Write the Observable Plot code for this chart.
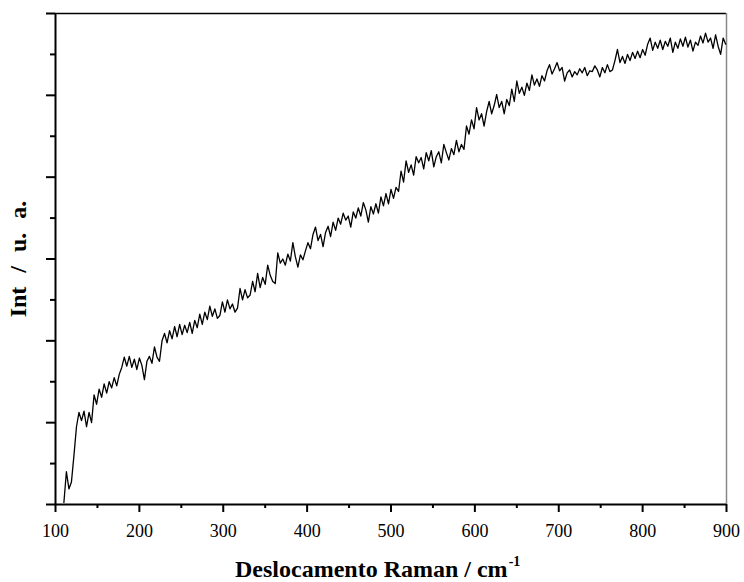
<!DOCTYPE html>
<html><head><meta charset="utf-8">
<script src="https://cdn.jsdelivr.net/npm/d3@7"></script>
<script src="https://cdn.jsdelivr.net/npm/@observablehq/plot@0.6"></script>
<style>
body{margin:0;background:#fff}
#chart{width:744px;height:582px}
#chart svg, #chart svg text{font-family:"Liberation Serif","Times New Roman",Times,serif !important}
</style>
</head><body><div id="chart"></div>
<script>
const ramanShift = [
110,113,116,119,122,125,128,131,134,137,
140,143,146,149,152,155,158,161,164,167,
170,173,176,179,182,185,188,191,194,197,
200,203,206,209,212,215,218,221,224,227,
230,233,236,239,242,245,248,251,254,257,
260,263,266,269,272,275,278,281,284,287,
290,293,296,299,302,305,308,311,314,317,
320,323,326,329,332,335,338,341,344,347,
350,353,356,359,362,365,368,371,374,377,
380,383,386,389,392,395,398,401,404,407,
410,413,416,419,422,425,428,431,434,437,
440,443,446,449,452,455,458,461,464,467,
470,473,476,479,482,485,488,491,494,497,
500,503,506,509,512,515,518,521,524,527,
530,533,536,539,542,545,548,551,554,557,
560,563,566,569,572,575,578,581,584,587,
590,593,596,599,602,605,608,611,614,617,
620,623,626,629,632,635,638,641,644,647,
650,653,656,659,662,665,668,671,674,677,
680,683,686,689,692,695,698,701,704,707,
710,713,716,719,722,725,728,731,734,737,
740,743,746,749,752,755,758,761,764,767,
770,773,776,779,782,785,788,791,794,797,
800,803,806,809,812,815,818,821,824,827,
830,833,836,839,842,845,848,851,854,857,
860,863,866,869,872,875,878,881,884,887,
890,893,896,899
];
const intensity = [
5,80,38,55,120,190,225,205,228,190,
225,200,268,245,282,262,295,272,300,285,
310,290,318,335,360,338,362,335,355,330,
358,340,305,350,362,345,385,360,350,400,
418,395,425,405,435,410,440,415,438,420,
445,418,450,432,465,440,470,452,485,460,
478,455,462,495,470,500,478,490,470,480,
528,500,525,505,512,545,520,565,530,555,
538,585,560,545,540,615,590,600,585,612,
595,640,605,580,610,598,620,640,625,660,
678,645,660,630,665,680,655,690,670,700,
685,712,695,705,678,715,700,725,705,738,
720,690,728,710,735,712,752,730,760,735,
770,748,775,765,815,788,840,812,830,805,
850,835,848,820,860,840,865,825,850,862,
835,880,860,842,870,855,890,862,880,868,
925,905,940,918,970,940,955,925,960,985,
955,975,1002,970,985,955,990,975,1015,985,
1035,1005,1020,1000,1030,1012,1050,1025,1040,1022,
1048,1035,1060,1075,1052,1065,1080,1060,1068,1035,
1055,1062,1045,1058,1050,1065,1055,1068,1048,1060,
1058,1072,1062,1045,1068,1055,1075,1058,1062,1085,
1112,1080,1095,1078,1100,1085,1105,1090,1108,1092,
1112,1098,1125,1140,1110,1130,1115,1135,1112,1132,
1120,1140,1105,1130,1115,1138,1120,1142,1118,1135,
1108,1130,1122,1145,1128,1152,1130,1140,1115,1148,
1120,1100,1140,1125
];
const xMajorTicks = [100,200,300,400,500,600,700,800,900];
const xMinorTicks = [150,250,350,450,550,650,750,850];
const yMajorTicks = [0,200,400,600,800,1000,1200];
const yMinorTicks = [100,300,500,700,900,1100];
const xTitle = "Deslocamento Raman / cm";
const xTitleSup = "-1";
const yTitle = "Int / u. a.";

const data = ramanShift.map((x, i) => ({x, y: intensity[i]}));
const serif = "'Liberation Serif', 'Times New Roman', Times, serif";

const plot = Plot.plot({
  width: 744, height: 582,
  marginLeft: 55, marginRight: 18, marginTop: 13, marginBottom: 78,
  style: {fontFamily: serif, fontSize: "18px", background: "#fff", color: "#000", overflow: "visible"},
  x: {domain: [100, 900]},
  y: {domain: [0, 1200]},
  marks: [
    Plot.ruleY([1200], {stroke: "#000", strokeWidth: 1.5}),
    Plot.ruleX([900], {stroke: "#888", strokeWidth: 1.5}),
    Plot.line(data, {x: "x", y: "y", stroke: "#000", strokeWidth: 1.3}),
    Plot.axisX({ticks: xMajorTicks, tickSize: 8, tickPadding: 12, tickFormat: d => String(d), label: null, strokeWidth: 2}),
    Plot.axisX({ticks: xMinorTicks, tickSize: 4, tickFormat: () => "", label: null, strokeWidth: 2}),
    Plot.axisY({ticks: yMajorTicks, tickSize: 9, tickFormat: () => "", label: null, strokeWidth: 2}),
    Plot.axisY({ticks: yMinorTicks, tickSize: 5, tickFormat: () => "", label: null, strokeWidth: 2}),
    Plot.ruleY([0], {stroke: "#000", strokeWidth: 2}),
    Plot.ruleX([100], {stroke: "#000", strokeWidth: 2})
  ]
});

const svg = d3.select(plot);
const xt = svg.append("text")
  .attr("x", 235).attr("y", 577)
  .attr("text-anchor", "start")
  .attr("font-family", serif).attr("font-weight", "bold").attr("font-size", 24)
  .attr("fill", "#000");
xt.append("tspan").text(xTitle);
xt.append("tspan").attr("font-size", 14).attr("dy", -11).attr("dx", 1).text(xTitleSup);

svg.append("text")
  .attr("transform", "translate(26,259) rotate(-90)")
  .attr("text-anchor", "middle")
  .attr("font-family", serif).attr("font-weight", "bold").attr("font-size", 24)
  .attr("word-spacing", 8)
  .attr("fill", "#000")
  .text(yTitle);

document.getElementById("chart").appendChild(plot);
</script>
</body></html>
